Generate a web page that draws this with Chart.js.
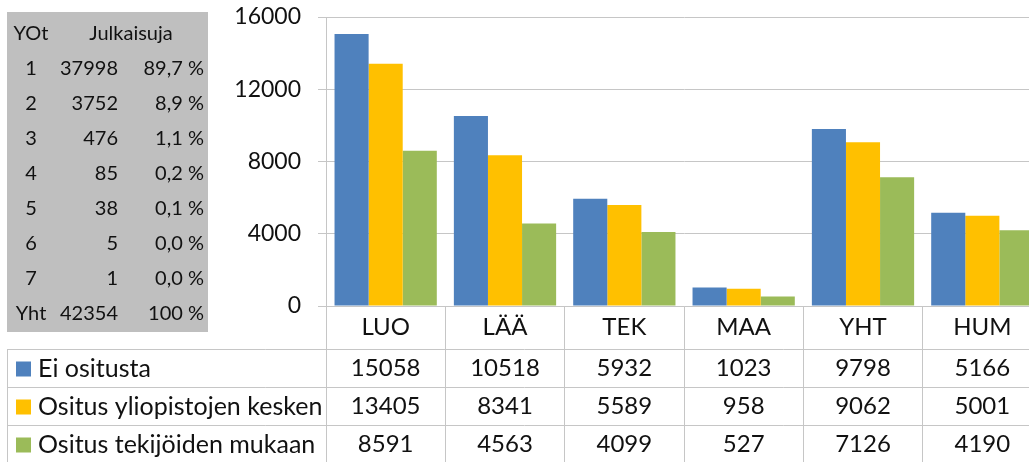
<!DOCTYPE html>
<html><head><meta charset="utf-8">
<script src="https://cdn.jsdelivr.net/npm/chart.js@4/dist/chart.umd.min.js"></script>
<style>
html,body{margin:0;padding:0;overflow:hidden;background:#fff;width:1029px;height:462px}
#wrap{position:absolute;left:0;top:0;width:1042px;height:462px}
</style>
</head><body><div id="wrap"><canvas id="c" width="1042" height="462"></canvas></div>
<script>
const categories = ['LUO','LÄÄ','TEK','MAA','YHT','HUM'];
const seriesNames = ['Ei ositusta','Ositus yliopistojen kesken','Ositus tekijöiden mukaan'];
const eiOsitusta = [15058,10518,5932,1023,9798,5166];
const ositusYliopistot = [13405,8341,5589,958,9062,5001];
const ositusTekijat = [8591,4563,4099,527,7126,4190];
const yTicks = [0,4000,8000,12000,16000];
const yotLabels = ['1','2','3','4','5','6','7','Yht'];
const julkaisuja = [37998,3752,476,85,38,5,1,42354];
const osuudet = ['89,7 %','8,9 %','1,1 %','0,2 %','0,1 %','0,0 %','0,0 %','100 %'];

const seriesValues = [eiOsitusta, ositusYliopistot, ositusTekijat];
const colors = ['#4F81BD','#FFC000','#9BBB59'];
const FONT = 'Lato';
const TXT = '#111111';
const GRID = '#c6c6c6';

const tablePlugin = {
  id: 'tables',
  afterDraw(chart) {
    const ctx = chart.ctx;
    const xs = chart.scales.x;
    const W = chart.width;
    ctx.save();
    // gray summary table
    ctx.fillStyle = '#bfbfbf';
    ctx.fillRect(7, 12, 201, 320);
    ctx.fillStyle = TXT;
    ctx.font = '20px ' + FONT;
    ctx.textBaseline = 'middle';
    const r0 = 33.5, rh = 34.95;
    ctx.textAlign = 'center';
    ctx.fillText('YOt', 31, r0);
    ctx.fillText('Julkaisuja', 131, r0);
    yotLabels.forEach((lab, i) => {
      const y = r0 + rh * (i + 1);
      ctx.textAlign = 'center';
      ctx.fillText(lab, 31, y);
      ctx.textAlign = 'right';
      ctx.fillText(String(julkaisuja[i]), 118, y);
      ctx.fillText(osuudet[i], 204, y);
    });
    // data table lines
    ctx.strokeStyle = GRID;
    ctx.lineWidth = 1;
    const rows = [349, 387, 425];
    ctx.beginPath();
    rows.forEach(y => { ctx.moveTo(7, y + 0.5); ctx.lineTo(W, y + 0.5); });
    ctx.moveTo(7.5, 349); ctx.lineTo(7.5, 462);
    ctx.stroke();
    // legend keys, names, values
    seriesNames.forEach((name, s) => {
      const yc = rows[s] + 19.5;
      ctx.fillStyle = colors[s];
      ctx.fillRect(16, yc - 7, 15, 15);
      ctx.fillStyle = TXT;
      ctx.textAlign = 'left';
      ctx.font = '25px ' + FONT;
      ctx.fillText(name, 38, yc);
      ctx.textAlign = 'center';
      ctx.font = '24px ' + FONT;
      seriesValues[s].forEach((v, i) => {
        ctx.fillText(String(v), xs.getPixelForValue(i), yc);
      });
    });
    ctx.restore();
  }
};

new Chart(document.getElementById('c'), {
  type: 'bar',
  data: {
    labels: categories,
    datasets: seriesNames.map((n, s) => ({
      label: n,
      data: seriesValues[s],
      backgroundColor: colors[s],
      borderWidth: 0,
      categoryPercentage: 0.857,
      barPercentage: 1.0
    }))
  },
  options: {
    responsive: false,
    animation: false,
    devicePixelRatio: 1,
    layout: { padding: { top: 17, left: 0, right: 0, bottom: 0 } },
    plugins: { legend: { display: false }, tooltip: { enabled: false } },
    scales: {
      x: {
        grid: { display: true, drawOnChartArea: false, drawTicks: true, tickLength: 156, color: GRID, offset: true },
        border: { display: true, color: GRID },
        ticks: { color: TXT, font: { family: FONT, size: 24 }, padding: -149.5, maxRotation: 0, autoSkip: false },
        afterFit(s) { s.height = 156; s.paddingLeft = 0; s.paddingRight = 0; }
      },
      y: {
        min: 0, max: 16000,
        afterBuildTicks(s) { s.ticks = yTicks.map(v => ({ value: v })); },
        grid: { color: GRID, tickLength: 8, drawTicks: true },
        border: { display: true, color: GRID },
        ticks: { color: TXT, font: { family: FONT, size: 23 }, padding: 17, callback: v => String(v) },
        afterFit(s) { s.width = 326; s.paddingTop = 0; s.paddingBottom = 0; }
      }
    }
  },
  plugins: [tablePlugin]
});
</script>
</body></html>
